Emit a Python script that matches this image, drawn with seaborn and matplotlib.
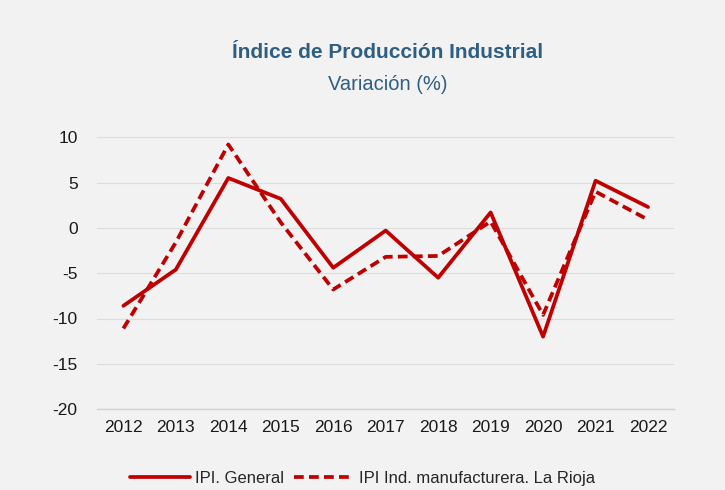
import pandas as pd
import matplotlib
matplotlib.use("Agg")
import matplotlib.pyplot as plt
import seaborn as sns
from matplotlib.ticker import FixedLocator

years = ["2012", "2013", "2014", "2015", "2016", "2017", "2018", "2019", "2020", "2021", "2022"]
ipi_general = [-8.6, -4.6, 5.5, 3.2, -4.4, -0.3, -5.5, 1.7, -12.0, 5.2, 2.3]
ipi_manuf = [-11.1, -1.6, 9.2, 0.6, -6.8, -3.2, -3.1, 0.7, -9.6, 4.0, 0.9]
series_names = ["IPI. General", "IPI Ind. manufacturera. La Rioja"]

red = "#c00000"
blue = "#2e5e82"
bg = "#f2f2f2"

df = pd.DataFrame({
    "Año": years * 2,
    "Variación": ipi_general + ipi_manuf,
    "Serie": [series_names[0]] * len(years) + [series_names[1]] * len(years),
})

sns.set_style("white")
plt.rcParams["font.family"] = ["Liberation Sans", "DejaVu Sans"]
plt.rcParams["axes.unicode_minus"] = False

fig = plt.figure(figsize=(7.25, 4.9), dpi=100, facecolor=bg)
ax = fig.add_axes([0.134, 0.165, 0.796, 0.555])
ax.set_facecolor(bg)

sns.lineplot(data=df, x="Año", y="Variación", hue="Serie", style="Serie",
             palette=[red, red], dashes={series_names[0]: "", series_names[1]: (2.6, 1.4)},
             linewidth=2.7, sort=False, ax=ax)

ax.set_ylim(-20, 10)
ax.set_yticks(range(-20, 11, 5))
ax.set_xlim(-0.5, len(years) - 0.5)
ax.yaxis.grid(True, color="#dcdcdc", linewidth=0.8)
ax.set_axisbelow(True)
for s in ["top", "right", "left"]:
    ax.spines[s].set_visible(False)
ax.spines["bottom"].set_color("#d0d0d0")
ax.spines["bottom"].set_linewidth(1)

ax.tick_params(axis="x", which="major", length=0, labelsize=12.5, pad=8, colors="#1a1a1a")
ax.tick_params(axis="y", length=0, labelsize=12.5, pad=14, colors="#1a1a1a")
ax.xaxis.set_minor_locator(FixedLocator([i - 0.5 for i in range(len(years) + 1)]))
ax.tick_params(axis="x", which="minor", length=5, color="#d0d0d0", width=1)
ax.set_xlabel("")
ax.set_ylabel("")

fig.text(0.535, 0.893, "Índice de Producción Industrial", ha="center", va="center",
         fontsize=15, fontweight="bold", color=blue)
fig.text(0.535, 0.828, "Variación (%)", ha="center", va="center", fontsize=14.5, color=blue)

handles, labels = ax.get_legend_handles_labels()
ax.legend(handles, labels, loc="center", bbox_to_anchor=(0.5, 0.024), bbox_transform=fig.transFigure,
          ncol=2, frameon=False, fontsize=12, handlelength=3.6, columnspacing=0.6, handletextpad=0.3)

fig.savefig("out.png", dpi=100, facecolor=bg)
